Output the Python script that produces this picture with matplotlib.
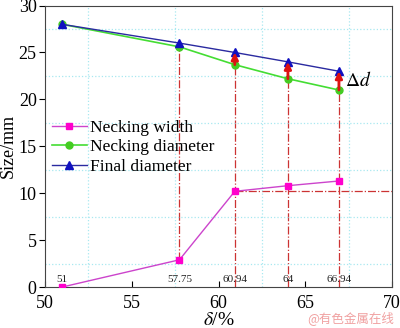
import matplotlib
matplotlib.use('Agg')
import matplotlib.pyplot as plt
from matplotlib.ticker import MultipleLocator

delta = [51, 57.75, 60.94, 64, 66.94]
delta_labels = ['51', '57.75', '60.94', '64', '66.94']
necking_width = [0, 2.9, 10.2, 10.8, 11.3]
necking_diam = [28, 25.6, 23.7, 22.2, 21.0]
final_diam = [28, 26.0, 25.0, 24.0, 23.0]

plt.rcParams['font.family'] = ['Liberation Serif', 'DejaVu Serif']
plt.rcParams['mathtext.fontset'] = 'stix'

fig = plt.figure(figsize=(4, 3.28), dpi=100)
ax = fig.add_axes([0.1125, 0.125, 0.8675, 0.858])

ax.set_xlim(50, 70)
ax.set_ylim(0, 30)
ax.xaxis.set_major_locator(MultipleLocator(5))
ax.yaxis.set_major_locator(MultipleLocator(5))
ax.xaxis.set_minor_locator(MultipleLocator(2.5))
ax.yaxis.set_minor_locator(MultipleLocator(2.5))
ax.grid(which='minor', color='#a8e8f0', linestyle=':', linewidth=0.9)
ax.tick_params(axis='x', which='major', direction='in', length=4, labelsize=13, pad=6)
ax.tick_params(axis='y', which='major', direction='out', length=4, labelsize=13, pad=2)
ax.tick_params(which='minor', length=0)
for s in ax.spines.values():
    s.set_color('#444444')

# guide lines
red = '#cc3333'
for i, x in enumerate(delta[1:], start=1):
    bottom = necking_width[i] if i == 1 else 0
    ax.plot([x, x], [bottom, final_diam[i]], color=red, linestyle='-.', linewidth=0.9, zorder=1)
ax.plot([delta[2], 70], [necking_width[2], necking_width[2]], color=red,
        linestyle='-.', linewidth=0.9, zorder=1)

ax.plot(delta, necking_width, color='#cc44cc', marker='s', markersize=5,
        markerfacecolor='#ff00cc', markeredgecolor='#ff00cc', linewidth=1, label='Necking width', zorder=3)
ax.plot(delta, necking_diam, color='#44dd33', marker='o', markersize=5,
        markerfacecolor='#44cc22', markeredgecolor='#44cc22', linewidth=1.2, label='Necking diameter', zorder=3)
ax.plot(delta, final_diam, color='#2a2aa0', marker='^', markersize=6,
        markerfacecolor='#1010c0', markeredgecolor='#1010c0', linewidth=1, label='Final diameter', zorder=3)

for i in range(2, 5):
    ax.annotate('', xy=(delta[i], final_diam[i]), xytext=(delta[i], necking_diam[i]),
                arrowprops=dict(arrowstyle='-|>', color='#dd1111', lw=2, mutation_scale=10,
                                shrinkA=0, shrinkB=0), zorder=4)
ax.text(67.3, 22.0, r'$\Delta d$', fontsize=14, va='center')

for x, lab in zip(delta, delta_labels):
    ax.text(x, 0.3, lab, fontsize=8, ha='center', va='bottom', color='#222222')

ax.legend(loc='upper left', bbox_to_anchor=(0.0, 0.62), frameon=False, fontsize=12.5,
          handlelength=2.0, handletextpad=0.2, labelspacing=0.2, borderpad=0.2,
          borderaxespad=0.2)

ax.set_xlabel(r'$\delta$/%', fontsize=14, labelpad=0)
ax.set_ylabel('Size/mm', fontsize=13)
ax.yaxis.set_label_coords(-0.08, 0.5)

fig.text(0.985, 0.01, '@有色金属在线', fontsize=9, color='#f0a0a0', ha='right', va='bottom',
         family=['Noto Sans CJK SC', 'DejaVu Sans'])

fig.savefig('out.png', dpi=100)
